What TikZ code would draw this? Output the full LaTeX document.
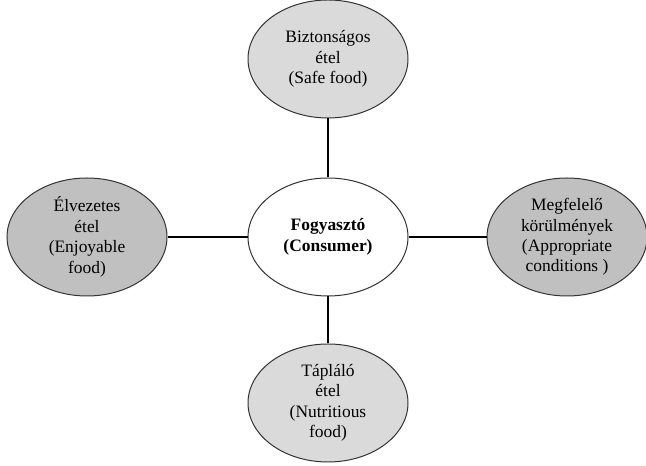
\documentclass[tikz,border=0pt]{standalone}
\usepackage{fontspec}
\setmainfont{Liberation Serif}
\usetikzlibrary{shapes.geometric}
\definecolor{palegray}{RGB}{218,218,218}
\definecolor{midgray}{RGB}{192,192,192}
\tikzset{
  need/.style={ellipse,draw=black!80,line width=1bp,minimum width=160bp,minimum height=118bp,
    inner sep=0pt,align=center,font=\fontsize{17.5}{20.5}\selectfont},
  link/.style={line width=2.6bp,black}
}

\begin{document}
\begin{tikzpicture}[x=1bp,y=1bp]
\useasboundingbox (0,0) rectangle (646,466);
% Centre: the consumer
\node[need,fill=white,font=\fontsize{17.5}{20.5}\selectfont\bfseries] (consumer) at (328,229) {Fogyasztó\\(Consumer)};
% Top and bottom: food qualities
\node[need,fill=palegray] (safe) at (328,407) {Biztonságos\\étel\\(Safe food)};
\node[need,fill=palegray] (nutri) at (328,63) {Tápláló\\étel\\(Nutritious\\food)};
% Left and right
\node[need,fill=midgray] (enjoy) at (87,229) {Élvezetes\\étel\\(Enjoyable\\food)};
\node[need,fill=midgray] (cond) at (567,229) {Megfelelő\\körülmények\\(Appropriate\\conditions )};
% Links
\draw[link] (consumer) -- (safe);
\draw[link] (consumer) -- (nutri);
\draw[link] (consumer) -- (enjoy);
\draw[link] (consumer) -- (cond);
\end{tikzpicture}
\end{document}
